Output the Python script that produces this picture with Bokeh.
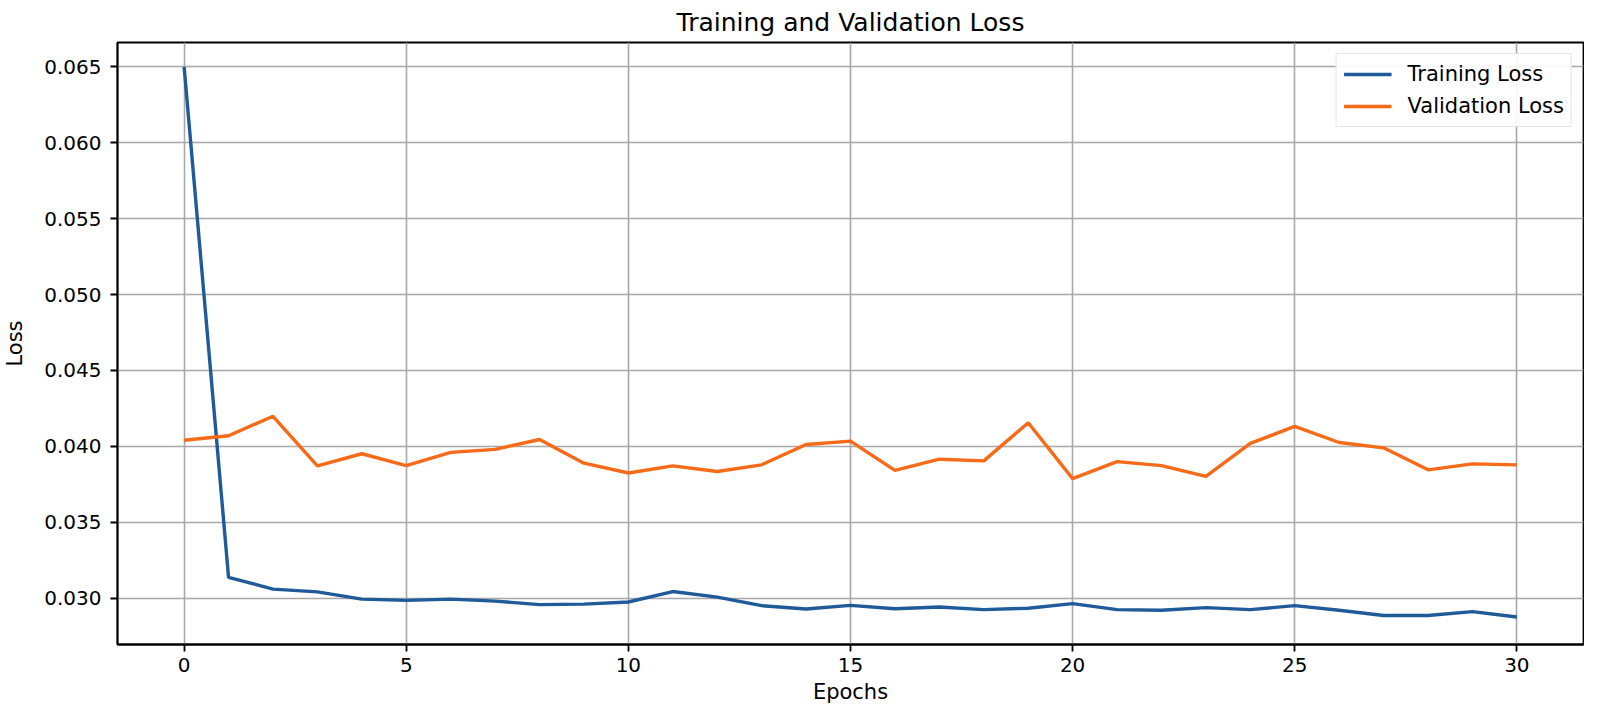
from bokeh.plotting import figure
from bokeh.models import Range1d, FixedTicker, NumeralTickFormatter, Legend, LegendItem
from bokeh.embed import file_html
from bokeh.resources import INLINE

epochs = list(range(31))
training_loss = [0.0650, 0.03137, 0.03059, 0.03041, 0.02993, 0.02985, 0.02993, 0.02980, 0.02957, 0.02960,
                 0.02974, 0.03043, 0.03006, 0.02950, 0.02928, 0.02952, 0.02930, 0.02941, 0.02924, 0.02933,
                 0.02963, 0.02924, 0.02920, 0.02937, 0.02924, 0.02950, 0.02920, 0.02885, 0.02885, 0.02911,
                 0.02875]
validation_loss = [0.04040, 0.04070, 0.04198, 0.03871, 0.03951, 0.03873, 0.03960, 0.03980, 0.04045, 0.03889,
                   0.03824, 0.03871, 0.03834, 0.03878, 0.04012, 0.04034, 0.03841, 0.03915, 0.03904, 0.04155,
                   0.03787, 0.03899, 0.03873, 0.03802, 0.04019, 0.04131, 0.04025, 0.03990, 0.03845, 0.03884,
                   0.03878]
x_ticks = [0, 5, 10, 15, 20, 25, 30]
y_ticks = [0.030, 0.035, 0.040, 0.045, 0.050, 0.055, 0.060, 0.065]

FONT = "DejaVu Sans"

p = figure(width=1584, height=706, output_backend="svg", toolbar_location=None,
           x_range=Range1d(-1.5, 31.5), y_range=Range1d(0.02694, 0.06661),
           min_border_left=116, min_border_right=1, min_border_top=42, min_border_bottom=58,
           title="Training and Validation Loss")

p.title.text_font = FONT
p.title.text_font_size = "25px"
p.title.text_font_style = "normal"
p.title.align = "center"
p.title.text_color = "#000000"
p.title.standoff = 11

p.outline_line_color = "#000000"
p.outline_line_width = 1.8
p.outline_line_alpha = 1.0

for ax in (p.xaxis[0], p.yaxis[0]):
    ax.axis_line_color = "#000000"
    ax.axis_line_width = 1.8
    ax.major_tick_line_color = "#000000"
    ax.major_tick_line_width = 1.8
    ax.major_tick_out = 7
    ax.major_tick_in = 0
    ax.minor_tick_line_color = None
    ax.major_label_text_font = FONT
    ax.major_label_text_font_size = "20px"
    ax.major_label_text_color = "#000000"
    ax.axis_label_text_font = FONT
    ax.axis_label_text_font_size = "21px"
    ax.axis_label_text_font_style = "normal"
    ax.axis_label_text_color = "#000000"

p.xaxis.major_label_standoff = 6
p.yaxis.major_label_standoff = 9
p.xaxis.ticker = FixedTicker(ticks=x_ticks)
p.yaxis.ticker = FixedTicker(ticks=y_ticks)
p.yaxis.formatter = NumeralTickFormatter(format="0.000")
p.xaxis.axis_label = "Epochs"
p.yaxis.axis_label = "Loss"
p.xaxis.axis_label_standoff = 5
p.yaxis.axis_label_standoff = 14

p.grid.grid_line_color = "#a8a8a8"
p.grid.grid_line_width = 1.6

r1 = p.line(epochs, training_loss, line_color="#1f5a99", line_width=3.4)
r2 = p.line(epochs, validation_loss, line_color="#f76a18", line_width=3.4)

legend = Legend(items=[LegendItem(label="Training Loss", renderers=[r1]),
                       LegendItem(label="Validation Loss", renderers=[r2])],
                location="top_right")
legend.label_text_font = FONT
legend.label_text_font_size = "21px"
legend.label_text_color = "#000000"
legend.glyph_width = 48
legend.glyph_height = 26
legend.label_height = 26
legend.label_standoff = 16
legend.spacing = 6
legend.padding = 7
legend.margin = 11
legend.border_line_color = "#cccccc"
legend.border_line_width = 1.5
legend.background_fill_alpha = 0.9
p.add_layout(legend)

open("out.html", "w").write(file_html(p, INLINE))
